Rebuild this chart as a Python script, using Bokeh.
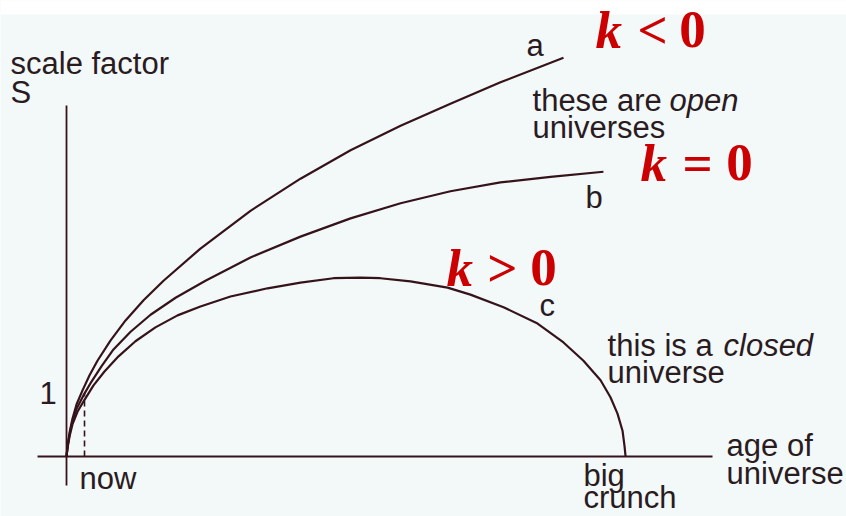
from bokeh.plotting import figure
from bokeh.models import Range1d, ColumnDataSource, BoxAnnotation
from bokeh.core.properties import value
from bokeh.embed import file_html
from bokeh.resources import INLINE

# ---- data (age of universe t, now = 1 ; scale factor S) ----
a_t = [0, 0.06, 0.17, 0.33, 0.56, 0.89, 1.28, 1.72, 2.44, 3.28, 4.28, 5.39,
       7.44, 10.22, 13.0, 15.78, 18.56, 21.33, 24.11, 27.61]
a_s = [0, 0.17, 0.38, 0.60, 0.83, 1.05, 1.29, 1.52, 1.84, 2.16, 2.48, 2.79,
       3.30, 3.90, 4.41, 4.86, 5.25, 5.60, 5.94, 6.33]

b_t = [0, 0.06, 0.17, 0.33, 0.56, 0.94, 1.39, 1.94, 2.61, 3.56, 4.67, 6.06,
       7.72, 10.22, 13.0, 15.78, 18.56, 21.33, 24.11, 26.89, 29.83]
b_s = [0, 0.16, 0.35, 0.56, 0.76, 0.97, 1.19, 1.43, 1.70, 1.98, 2.25, 2.52,
       2.79, 3.16, 3.49, 3.78, 4.02, 4.21, 4.35, 4.44, 4.52]

c_t = [0, 0.06, 0.17, 0.33, 0.61, 1.0, 1.5, 2.11, 2.89, 3.83, 4.94, 6.17,
       7.44, 9.11, 11.17, 13.0, 14.83, 16.33, 17.44, 19.11, 21.17, 22.44,
       24.28, 26.17, 27.61, 28.72, 29.67, 30.22, 30.61, 30.89, 31.0, 31.06]
c_s = [0, 0.14, 0.32, 0.51, 0.71, 0.90, 1.13, 1.35, 1.59, 1.83, 2.05, 2.24,
       2.38, 2.54, 2.67, 2.76, 2.83, 2.84, 2.83, 2.78, 2.68, 2.57,
       2.37, 2.11, 1.81, 1.52, 1.21, 0.94, 0.68, 0.41, 0.17, 0]

t_now = 1.0
s_now = 1.0
age_axis_end = 35.89
scale_axis_top = 5.57
axis_overhang = -0.46

INK = "#2a1b1f"
CURVE = "#35131a"
RED = "#cc0000"
BG = "#f3f8f9"

p = figure(width=846, height=516, output_backend="svg", toolbar_location=None,
           x_range=Range1d(-3.667, 43.333), y_range=Range1d(-0.952, 7.238),
           x_axis_location=None, y_axis_location=None, min_border=0,
           background_fill_color=BG, border_fill_color=BG)
p.grid.visible = False
p.outline_line_color = None

# white strip at top of scan
p.add_layout(BoxAnnotation(bottom=7.016, fill_color="white", fill_alpha=1.0,
                           line_color=None, level="underlay"))

# axes
p.line([0, 0], [axis_overhang, scale_axis_top], line_color=CURVE, line_width=1.8)
p.line([-1.61, age_axis_end], [0, 0], line_color=CURVE, line_width=1.8)
p.line([t_now, t_now], [0, s_now], line_color=CURVE, line_width=1.6, line_dash="6 4")

# curves
for xs, ys in ((a_t, a_s), (b_t, b_s), (c_t, c_s)):
    p.line(xs, ys, line_color=CURVE, line_width=2.2, line_join="round")

# normal labels
norm = ColumnDataSource(dict(
    x=[-3.111, -3.111, -1.5, 0.722, 28.72, 28.72, 36.67, 36.67, 25.56,
       25.89, 25.89, 28.83, 26.28, 30.06, 30.06],
    y=[6.079, 5.619, 0.857, -0.508, -0.460, -0.810, 0.016, -0.429, 6.365,
       5.492, 5.063, 3.952, 2.238, 1.603, 1.175],
    text=["scale factor", "S", "1", "now", "big", "crunch", "age of", "universe",
          "a", "these are", "universes", "b", "c", "this is a", "universe"]))
p.text(x="x", y="y", text="text", source=norm, text_font=value("Liberation Sans"),
       text_font_size="31px", text_color=INK, text_align="left",
       text_baseline="alphabetic", y_offset=-10)

ital = ColumnDataSource(dict(x=[33.5, 36.5], y=[5.492, 1.603], text=["open", "closed"]))
p.text(x="x", y="y", text="text", source=ital, text_font=value("Liberation Sans"),
       text_font_size="31px", text_font_style="italic", text_color=INK,
       text_align="left", text_baseline="alphabetic", y_offset=-10)

# curvature labels
kk = ColumnDataSource(dict(x=[29.39, 31.89, 21.11], y=[6.49, 4.381, 2.714], text=["k", "k", "k"]))
p.text(x="x", y="y", text="text", source=kk, text_font=value("Liberation Serif"),
       text_font_size="53px", text_font_style="bold italic", text_color=RED,
       text_align="left", text_baseline="alphabetic", y_offset=-18)
ops = ColumnDataSource(dict(
    x=[32.56, 34.78, 35.06, 37.39, 24.22, 26.5],
    y=[6.49, 6.49, 4.381, 4.381, 2.714, 2.714],
    text=["<", "0", "=", "0", ">", "0"]))
p.text(x="x", y="y", text="text", source=ops, text_font=value("Liberation Serif"),
       text_font_size="53px", text_font_style="bold", text_color=RED,
       text_align="center", text_baseline="alphabetic", y_offset=-18)

open("out.html", "w").write(file_html(p, INLINE))
